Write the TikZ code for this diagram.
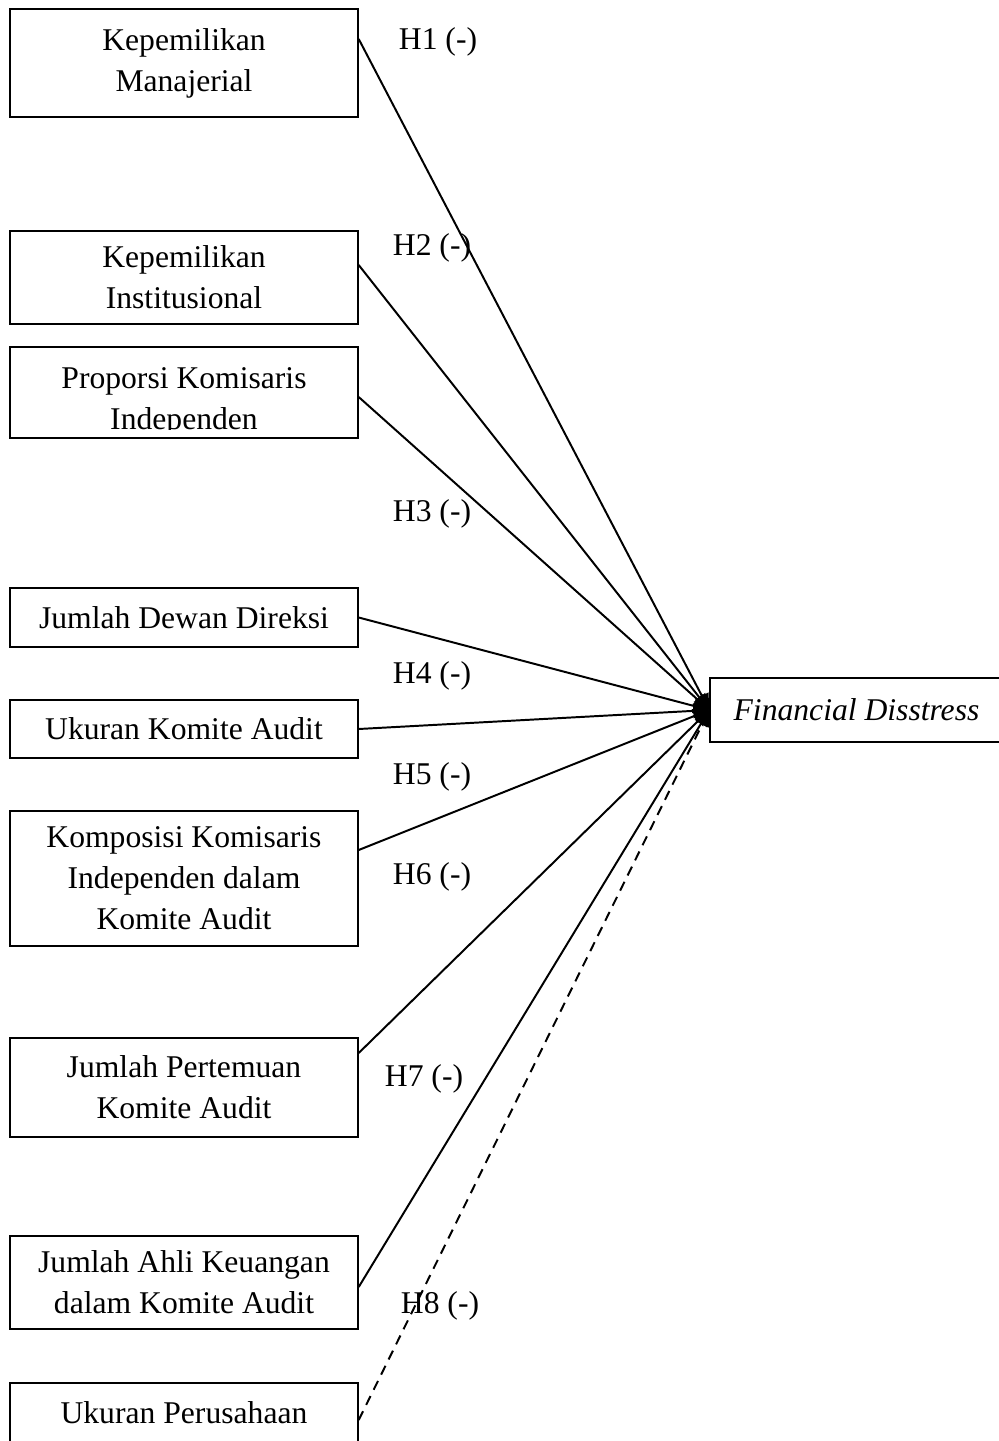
\documentclass[tikz,border=0pt]{standalone}
\usepackage{fontspec}
\setmainfont{Liberation Serif}
\usetikzlibrary{arrows.meta, positioning, calc}
\newcommand\boxfont{\fontsize{22.5}{29.2}\selectfont}

\begin{document}
\begin{tikzpicture}[
  box/.style={draw, line width=1pt, minimum width=8.7cm, inner sep=0pt, align=center, font=\boxfont},
  hyp/.style={font=\boxfont, inner sep=0pt},
  arr/.style={line width=1.4pt, -{Triangle[length=0.4cm, width=0.36cm]}}
]
  \useasboundingbox (0,0) rectangle (24.975,-36.025);
  \clip (0,0) rectangle (24.975,-36.025);

  % independent variables
  \node[box, minimum height=2.7cm]   (km)  at (4.6,-1.575)   {Kepemilikan\\Manajerial};
  \node[box, minimum height=2.325cm] (ki)  at (4.6,-6.9375)  {Kepemilikan\\Institusional};
  \node[box, minimum height=2.275cm] (pki) at (4.6,-9.8125)  {};
  \begin{scope}
    \clip ([yshift=0.24cm]pki.south west) rectangle (pki.north east);
    \node[hyp, align=center] (pkitext) at (4.6,-10.05) {Proporsi Komisaris\\Independen};
  \end{scope}
  \node[box, minimum height=1.475cm] (jdd) at (4.6,-15.4375) {Jumlah Dewan Direksi};
  \node[box, minimum height=1.45cm]  (uka) at (4.6,-18.225)  {Ukuran Komite Audit};
  \node[box, minimum height=3.375cm] (kki) at (4.6,-21.9625) {Komposisi Komisaris\\Independen dalam\\Komite Audit};
  \node[box, minimum height=2.475cm] (jpk) at (4.6,-27.1875) {Jumlah Pertemuan\\Komite Audit};
  \node[box, minimum height=2.325cm] (jak) at (4.6,-32.0625) {Jumlah Ahli Keuangan\\dalam Komite Audit};
  \node[box, minimum height=1.5cm]   (up)  at (4.6,-35.325)  {Ukuran Perusahaan};

  % dependent variable
  \node[box, minimum width=7.325cm, minimum height=1.6cm, font=\boxfont\itshape] (fd) at (21.4125,-17.75) {Financial Disstress};

  % hypotheses
  \draw[arr] ([yshift=0.6cm]km.east)     -- (fd.west);
  \draw[arr] ([yshift=0.3125cm]ki.east)  -- (fd.west);
  \draw[arr] ([yshift=-0.1125cm]pki.east) -- (fd.west);
  \draw[arr] (jdd.east) -- (fd.west);
  \draw[arr] (uka.east) -- (fd.west);
  \draw[arr] ([yshift=0.7125cm]kki.east) -- (fd.west);
  \draw[arr] ([yshift=0.8625cm]jpk.east) -- (fd.west);
  \draw[arr] ([yshift=-0.1125cm]jak.east) -- (fd.west);
  \draw[arr, dash pattern=on 7pt off 5pt] ([yshift=-0.175cm]up.east) -- (fd.west);

  \node[hyp] (h1) at (10.95,-1.05)   {H1 (-)};
  \node[hyp] (h2) at (10.8,-6.2)     {H2 (-)};
  \node[hyp] (h3) at (10.8,-12.85)   {H3 (-)};
  \node[hyp] (h4) at (10.8,-16.9)    {H4 (-)};
  \node[hyp] (h5) at (10.8,-19.425)  {H5 (-)};
  \node[hyp] (h6) at (10.8,-21.925)  {H6 (-)};
  \node[hyp] (h7) at (10.6,-26.975)  {H7 (-)};
  \node[hyp] (h8) at (11.0,-32.65)   {H8 (-)};
\end{tikzpicture}
\end{document}
